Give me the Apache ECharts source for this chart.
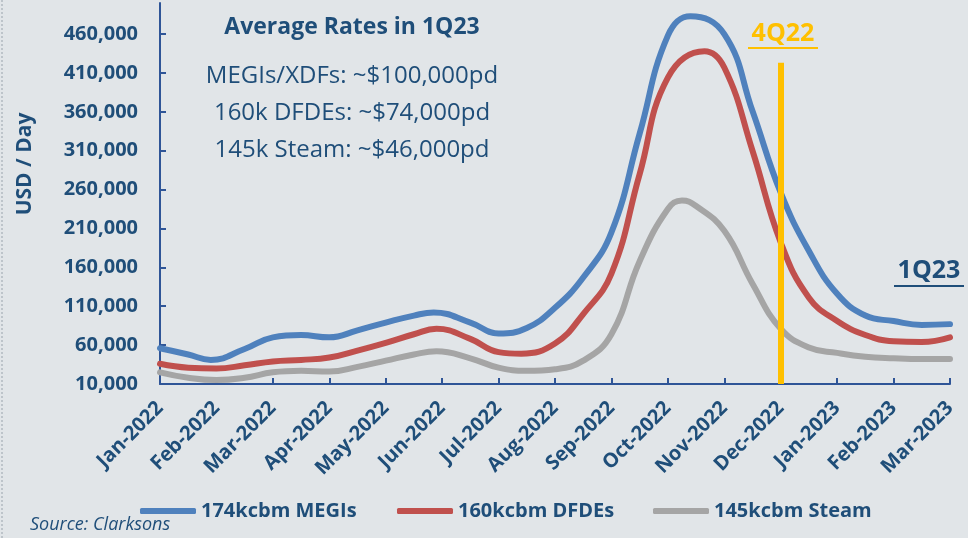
<!DOCTYPE html>
<html>
<head>
<meta charset="utf-8">
<script src="https://cdn.jsdelivr.net/npm/echarts@6.0.0/dist/echarts.min.js"></script>
<style>
  html, body { margin: 0; padding: 0; background: #e1e5e8; }
  #chart { width: 968px; height: 538px; }
</style>
</head>
<body>
<div id="chart"></div>
<script>
// Axis months; points are [month offset from Jan-2022, USD/day]
const months = ['Jan-2022', 'Feb-2022', 'Mar-2022', 'Apr-2022', 'May-2022', 'Jun-2022', 'Jul-2022',
  'Aug-2022', 'Sep-2022', 'Oct-2022', 'Nov-2022', 'Dec-2022', 'Jan-2023', 'Feb-2023', 'Mar-2023']

const megi = [[0, 56000], [0.5, 48000], [0.9, 41000], [1.5, 55000], [2, 70000], [2.5, 73000], [3, 70000],
  [3.5, 79000], [4, 89000], [4.5, 98000], [4.85, 102000], [5.5, 89000], [6, 75000], [6.5, 82000], [7, 108000],
  [7.5, 147000], [8, 205000], [8.5, 332000], [9, 458000], [9.4, 483000], [10, 460000], [10.5, 361000],
  [11, 256000], [11.5, 181000], [12, 126000], [12.5, 98000], [13, 91000], [13.5, 86000], [14, 87000]]
const dfde = [[0, 36000], [0.5, 31000], [1, 30000], [1.5, 34000], [2, 39000], [2.5, 41000], [3, 44000],
  [3.5, 53000], [4, 63000], [4.5, 74000], [4.9, 81000], [5.5, 68000], [6, 51000], [6.4, 49000], [7, 62000],
  [7.5, 100000], [8, 152000], [8.5, 280000], [9, 404000], [9.65, 438000], [10, 417000], [10.5, 310000],
  [11, 192000], [11.5, 121000], [12, 91000], [12.5, 73000], [13, 65000], [13.5, 64000], [14, 70000]]
const steam = [[0, 25000], [0.5, 18000], [1, 15000], [1.5, 18000], [2, 25000], [2.5, 27000], [3, 26000],
  [3.5, 32000], [4, 40000], [4.5, 48000], [4.9, 52000], [5.5, 43000], [6, 31000], [6.5, 27000], [7, 29000],
  [7.5, 40000], [8, 74000], [8.5, 168000], [9, 235000], [9.25, 246000], [9.5, 239000], [10, 207000],
  [10.5, 139000], [11, 81000], [11.5, 57000], [12, 50000], [12.5, 45000], [13, 43000], [13.5, 42000], [14, 42000]]

const yTicks = [10000, 60000, 110000, 160000, 210000, 260000, 310000, 360000, 410000, 460000]
const seriesNames = ['174kcbm MEGIs', '160kcbm DFDEs', '145kcbm Steam']
const colors = ['#4f81bd', '#c0504d', '#a5a5a5']
const avgLines = ['MEGIs/XDFs: ~$100,000pd', '160k DFDEs: ~$74,000pd', '145k Steam: ~$46,000pd']
const quarterMark = 11 // Dec-2022
const quarterTop = 423000

const navy = '#1f4e79'
const font = '"Open Sans", sans-serif'

const chart = echarts.init(document.getElementById('chart'))

const legendFor = (name, left) => ({
  data: [name],
  left: left,
  top: 496,
  icon: 'roundRect',
  itemWidth: 56,
  itemHeight: 6,
  textStyle: { color: navy, fontFamily: font, fontWeight: 'bold', fontSize: 20 }
})

const lineSeries = (name, data, color) => ({
  name: name,
  type: 'line',
  data: data,
  smooth: 0.45,
  symbol: 'none',
  lineStyle: { width: 6, color: color, cap: 'round' },
  itemStyle: { color: color }
})

chart.setOption({
  backgroundColor: '#e1e5e8',
  animation: false,
  textStyle: { fontFamily: font },
  grid: { left: 160, right: 18, top: 3, bottom: 154 },
  legend: [
    legendFor(seriesNames[0], 135),
    legendFor(seriesNames[1], 392),
    legendFor(seriesNames[2], 648)
  ],
  xAxis: {
    type: 'value',
    min: 0,
    max: months.length - 1,
    interval: 1,
    axisLine: { lineStyle: { color: '#2f5597', width: 2 } },
    axisTick: { show: true, inside: true, length: 6, lineStyle: { color: '#2f5597', width: 2 } },
    axisLabel: {
      rotate: 45,
      margin: 21,
      color: navy,
      fontFamily: font,
      fontWeight: 'bold',
      fontSize: 20,
      formatter: (v) => months[v]
    },
    splitLine: { show: false }
  },
  yAxis: {
    type: 'value',
    min: 10000,
    max: 500000,
    interval: 50000,
    axisLine: { show: true, lineStyle: { color: '#2f5597', width: 2 } },
    axisTick: { show: true, inside: true, length: 6, customValues: yTicks, lineStyle: { color: '#2f5597', width: 2 } },
    axisLabel: {
      customValues: yTicks,
      margin: 22,
      color: navy,
      fontFamily: font,
      fontWeight: 'bold',
      fontSize: 20,
      formatter: (v) => v.toLocaleString('en-US')
    },
    splitLine: { show: false }
  },
  series: [
    lineSeries(seriesNames[0], megi, colors[0]),
    lineSeries(seriesNames[1], dfde, colors[1]),
    Object.assign(lineSeries(seriesNames[2], steam, colors[2]), {
      markLine: {
        silent: true,
        symbol: 'none',
        label: { show: false },
        lineStyle: { color: '#ffc000', width: 6, type: 'solid', opacity: 1 },
        data: [[{ coord: [quarterMark, quarterTop] }, { coord: [quarterMark, 10000] }]]
      }
    })
  ],
  graphic: [
    { type: 'line', shape: { x1: 2, y1: 0, x2: 2, y2: 538 }, style: { stroke: '#9aa3ab', lineWidth: 1, lineDash: [2, 2] } },
    {
      type: 'text', rotation: Math.PI / 2, x: 25, y: 164,
      style: { text: 'USD / Day', fill: navy, font: 'bold 21px ' + font, textAlign: 'center', textVerticalAlign: 'middle' }
    },
    {
      type: 'text', x: 352, y: 27,
      style: { text: 'Average Rates in 1Q23', fill: navy, font: 'bold 23px ' + font, textAlign: 'center', textVerticalAlign: 'middle' }
    },
    ...avgLines.map((t, i) => ({
      type: 'text', x: 352, y: 76 + i * 37,
      style: { text: t, fill: navy, font: '24px ' + font, textAlign: 'center', textVerticalAlign: 'middle' }
    })),
    {
      type: 'text', x: 783, y: 34,
      style: { text: '4Q22', fill: '#ffc000', font: 'bold 25px ' + font, textAlign: 'center', textVerticalAlign: 'middle' }
    },
    { type: 'line', shape: { x1: 748, y1: 48, x2: 818, y2: 48 }, style: { stroke: '#ffc000', lineWidth: 2 } },
    {
      type: 'text', x: 929, y: 271,
      style: { text: '1Q23', fill: navy, font: 'bold 25px ' + font, textAlign: 'center', textVerticalAlign: 'middle' }
    },
    { type: 'line', shape: { x1: 894, y1: 286, x2: 964, y2: 286 }, style: { stroke: navy, lineWidth: 2 } },
    {
      type: 'text', x: 30, y: 525,
      style: { text: 'Source: Clarksons', fill: navy, font: 'italic 18px ' + font, textVerticalAlign: 'middle' }
    }
  ]
})
</script>
</body>
</html>
